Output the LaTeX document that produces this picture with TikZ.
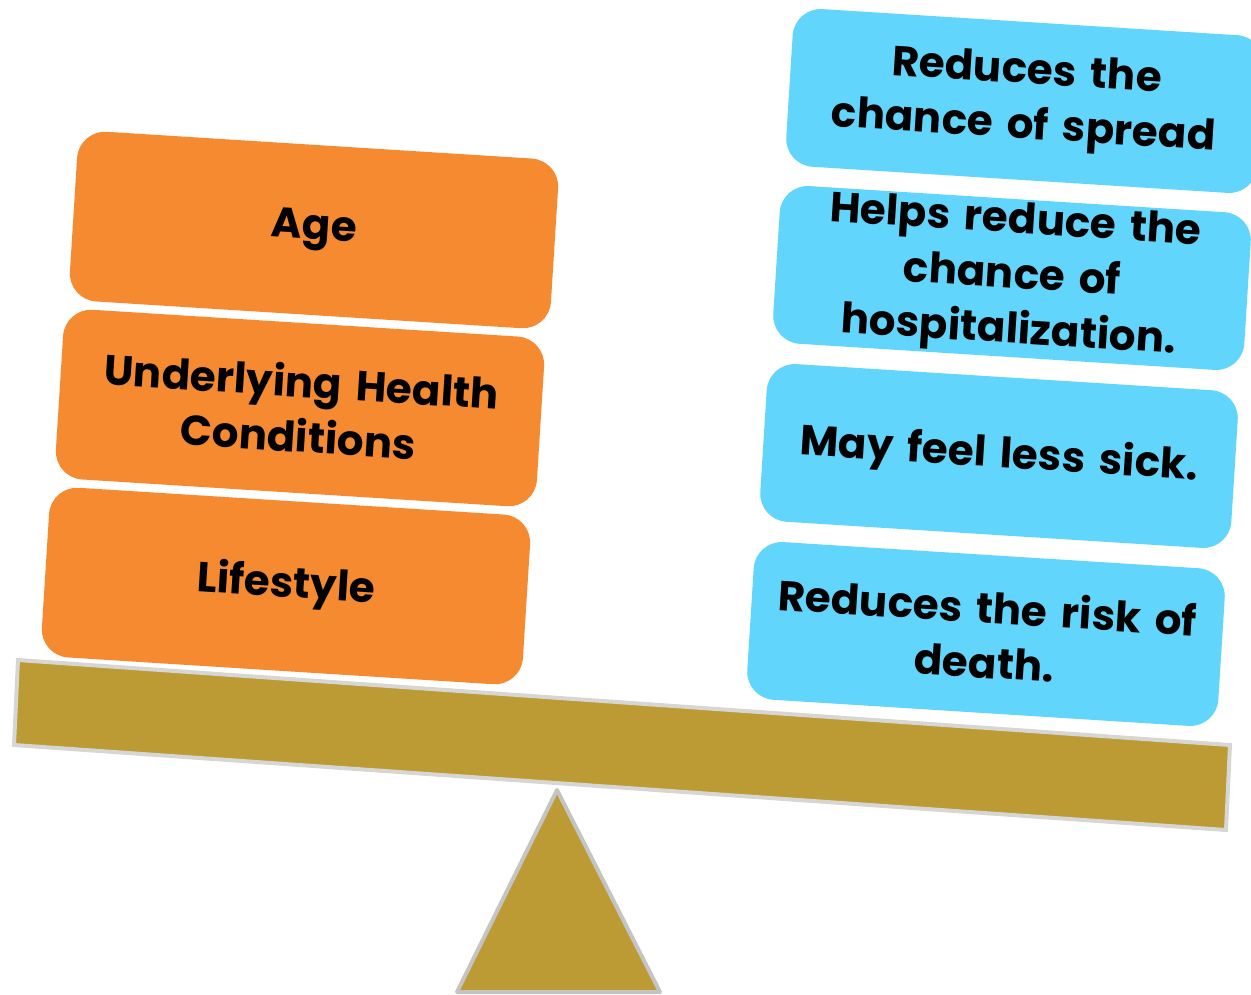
\documentclass[tikz,border=0pt]{standalone}
\usepackage{fontspec}
\setmainfont{Poppins}
\usetikzlibrary{positioning}
\definecolor{riskorange}{RGB}{245,138,49}
\definecolor{benefitblue}{RGB}{98,213,252}
\definecolor{beamgold}{RGB}{188,155,52}
\definecolor{beamedge}{RGB}{214,214,212}
\definecolor{pivotedge}{RGB}{196,196,194}
\tikzset{
  weight/.style={rounded corners=28pt, inner sep=0pt, align=center, rotate=-3.6,
    font=\fontsize{42}{55}\selectfont\bfseries},
  riskbox/.style={weight, fill=riskorange, minimum width=482pt, minimum height=170pt, text width=460pt},
  benefitbox/.style={weight, fill=benefitblue, minimum width=472pt, minimum height=158pt, text width=460pt}
}

\begin{document}
\begin{tikzpicture}[x=1pt,y=-1pt]
  \clip (0,0) rectangle (1251,994);
  % beam and pivot
  \filldraw[fill=beamgold,draw=beamedge,line width=4pt] (18,660) -- (1230,745) -- (1226,830) -- (14,745) -- cycle;
  \filldraw[fill=beamgold,draw=pivotedge,line width=4pt,line join=round] (557,790) -- (660,992) -- (457,992) -- cycle;
  % left pile
  \node[riskbox] (age) at (314,230) {Age};
  \node[riskbox] (health) at (300,408) {Underlying Health\\Conditions};
  \node[riskbox] (lifestyle) at (286,586) {Lifestyle};
  % right pile
  \node[benefitbox] (spread) at (1025,101) {Reduces the\\chance of spread};
  \node[benefitbox] (hospital) at (1012,278) {Helps reduce the\\chance of\\hospitalization.};
  \node[benefitbox] (sick) at (999,456) {May feel less sick.};
  \node[benefitbox] (death) at (986,634) {Reduces the risk of\\death.};
\end{tikzpicture}
\end{document}
